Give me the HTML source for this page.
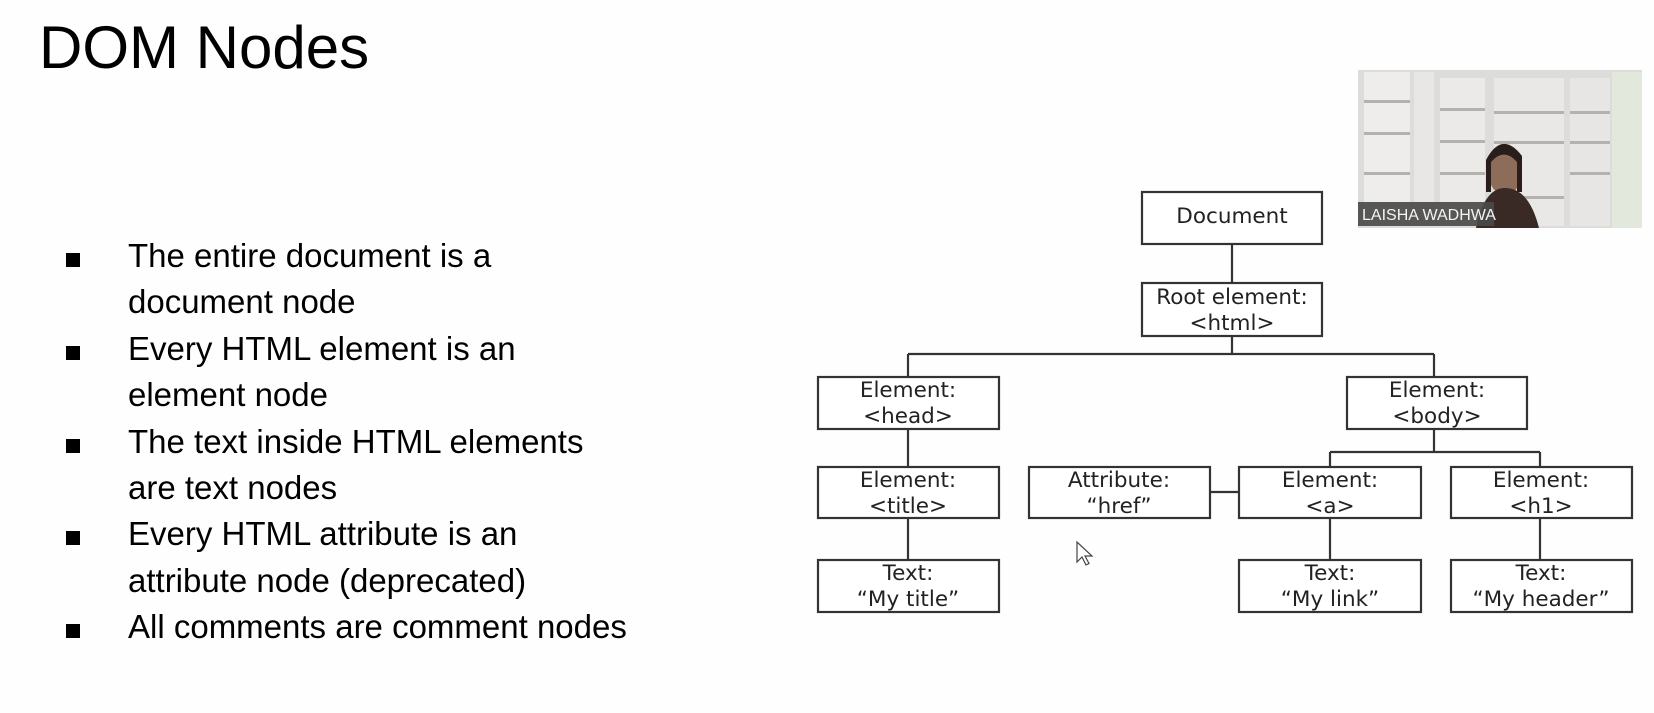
<!DOCTYPE html>
<html><head><meta charset="utf-8"><style>
html,body{margin:0;padding:0;background:#fff;width:1654px;height:713px;overflow:hidden}
</style></head><body>
<svg width="1654" height="713" viewBox="0 0 1654 713" xmlns="http://www.w3.org/2000/svg">
<rect width="1654" height="713" fill="#fefefe"/>
<g font-family="Liberation Sans, Arial, sans-serif" fill="#000">
<text x="39" y="68" font-size="60">DOM Nodes</text>
<g font-size="33">
<text x="128" y="267">The entire document is a</text>
<text x="128" y="313">document node</text>
<text x="128" y="360">Every HTML element is an</text>
<text x="128" y="406">element node</text>
<text x="128" y="453">The text inside HTML elements</text>
<text x="128" y="499">are text nodes</text>
<text x="128" y="545">Every HTML attribute is an</text>
<text x="128" y="592">attribute node (deprecated)</text>
<text x="128" y="638">All comments are comment nodes</text>
</g>
</g>
<g fill="#000">
<rect x="66" y="253" width="14" height="14"/><rect x="66" y="346" width="14" height="14"/>
<rect x="66" y="439" width="14" height="14"/><rect x="66" y="531" width="14" height="14"/>
<rect x="66" y="624" width="14" height="14"/>
</g>
<g stroke="#333" stroke-width="2.2" fill="none">
<line x1="1232" y1="244" x2="1232" y2="283"/>
<line x1="1232" y1="336" x2="1232" y2="354"/>
<line x1="908" y1="354" x2="1434" y2="354"/>
<line x1="908" y1="354" x2="908" y2="377"/>
<line x1="1434" y1="354" x2="1434" y2="377"/>
<line x1="908" y1="429" x2="908" y2="467"/>
<line x1="908" y1="518" x2="908" y2="560"/>
<line x1="1434" y1="429" x2="1434" y2="452"/>
<line x1="1330" y1="452" x2="1540" y2="452"/>
<line x1="1330" y1="452" x2="1330" y2="467"/>
<line x1="1540" y1="452" x2="1540" y2="467"/>
<line x1="1210" y1="492" x2="1239" y2="492"/>
<line x1="1330" y1="518" x2="1330" y2="560"/>
<line x1="1540" y1="518" x2="1540" y2="560"/>
<rect x="1142" y="192" width="180" height="52" fill="#fff"/>
<rect x="1142" y="283" width="180" height="53" fill="#fff"/>
<rect x="818" y="377" width="181" height="52" fill="#fff"/>
<rect x="1347" y="377" width="180" height="52" fill="#fff"/>
<rect x="818" y="467" width="181" height="51" fill="#fff"/>
<rect x="1029" y="467" width="181" height="51" fill="#fff"/>
<rect x="1239" y="467" width="182" height="51" fill="#fff"/>
<rect x="1451" y="467" width="181" height="51" fill="#fff"/>
<rect x="818" y="560" width="181" height="52" fill="#fff"/>
<rect x="1239" y="560" width="182" height="52" fill="#fff"/>
<rect x="1451" y="560" width="181" height="52" fill="#fff"/>
</g>
<g font-family="DejaVu Sans, Verdana, sans-serif" font-size="21.5" fill="#222" text-anchor="middle">
<text x="1232" y="223">Document</text>
<text x="1232" y="304">Root element:</text><text x="1232" y="330">&lt;html&gt;</text>
<text x="908" y="397">Element:</text><text x="908" y="423">&lt;head&gt;</text>
<text x="1437" y="397">Element:</text><text x="1437" y="423">&lt;body&gt;</text>
<text x="908" y="487">Element:</text><text x="908" y="513">&lt;title&gt;</text>
<text x="1119" y="487">Attribute:</text><text x="1119" y="513">“href”</text>
<text x="1330" y="487">Element:</text><text x="1330" y="513">&lt;a&gt;</text>
<text x="1541" y="487">Element:</text><text x="1541" y="513">&lt;h1&gt;</text>
<text x="908" y="580">Text:</text><text x="908" y="606">“My title”</text>
<text x="1330" y="580">Text:</text><text x="1330" y="606">“My link”</text>
<text x="1541" y="580">Text:</text><text x="1541" y="606">“My header”</text>
</g>
<path d="M1077 542 l0 20 l5 -5 l4 8 l3 -1.5 l-4 -7.5 l7 0 z" fill="#fff" stroke="#444" stroke-width="1.2"/>
<!-- video -->
<g>
<rect x="1358" y="70" width="284" height="158" fill="#dcdcda"/>
<rect x="1364" y="72" width="46" height="154" fill="#eeedeb"/>
<rect x="1414" y="72" width="20" height="154" fill="#e8e7e5"/>
<rect x="1440" y="78" width="45" height="148" fill="#ebeae8"/>
<rect x="1494" y="78" width="70" height="148" fill="#e9e8e6"/>
<rect x="1570" y="78" width="40" height="148" fill="#e7e6e4"/>
<rect x="1612" y="72" width="30" height="156" fill="#e3e8dc"/>
<g fill="#b4b2ae"><rect x="1364" y="100" width="46" height="3"/><rect x="1364" y="132" width="46" height="3"/><rect x="1364" y="172" width="46" height="3"/>
<rect x="1494" y="111" width="70" height="3"/><rect x="1494" y="141" width="70" height="3"/><rect x="1494" y="196" width="70" height="3"/>
<rect x="1440" y="108" width="45" height="3"/><rect x="1440" y="140" width="45" height="3"/><rect x="1440" y="172" width="45" height="3"/>
<rect x="1570" y="111" width="40" height="3"/><rect x="1570" y="141" width="40" height="3"/><rect x="1570" y="172" width="40" height="3"/></g>
<ellipse cx="1505" cy="172" rx="17" ry="23" fill="#8d6c5a"/>
<path d="M1476 228 q8 -40 29 -40 q24 0 34 40 z" fill="#3a2a26"/>
<path d="M1486 160 q16 -30 36 -4 l0 36 l-5 0 l0 -30 q-13 -15 -26 0 l0 30 l-5 0 z" fill="#2a1e1a"/>
<rect x="1358" y="202" width="136" height="24" fill="#4a4a48" opacity="0.92"/>
<text x="1362" y="220" font-family="Liberation Sans, Arial, sans-serif" font-size="16" fill="#f4f4f4">LAISHA WADHWA</text>
</g>
</svg>
</body></html>
